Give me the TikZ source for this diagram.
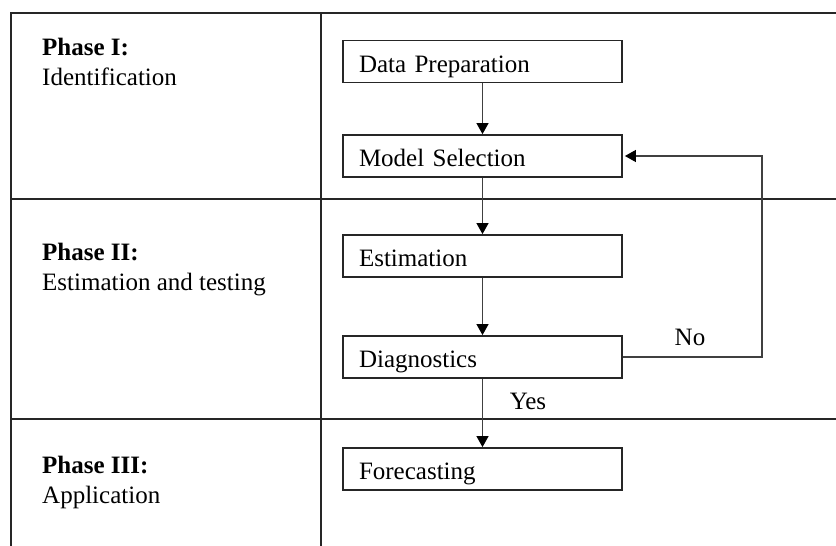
\documentclass[tikz,border=0pt]{standalone}
\usepackage{fontspec}
\setmainfont{Liberation Serif}
\usetikzlibrary{arrows.meta}
\begin{document}
\begin{tikzpicture}[x=1pt,y=-1pt,
  font=\fontsize{25}{30}\selectfont,
  rule/.style={line width=1.6pt, draw=black!85},
  stepbox/.style={draw=black!85, line width=1.8pt, rectangle, minimum width=279pt, minimum height=42pt,
     text width=247pt, inner xsep=16pt, inner ysep=0pt, align=left, text height=21pt, text depth=0pt},
  flow/.style={draw=black!75, line width=1.1pt, -{Triangle[width=12pt,length=11pt,color=black]}},
  phase/.style={anchor=base west, inner sep=0pt, align=left},
  lbl/.style={inner sep=0pt}]
\useasboundingbox (0,0) rectangle (836,546);
% table lines
\coordinate (tl) at (11,13);
\coordinate (bl) at (11,546);
\coordinate (tm) at (321,13);
\coordinate (bm) at (321,546);
\coordinate (tr) at (836,13);
\coordinate (h1l) at (11,199);
\coordinate (h1r) at (836,199);
\coordinate (h2l) at (11,419);
\coordinate (h2r) at (836,419);
\draw[rule] (tr) -- (tl) -- (bl);
\draw[rule] (tm) -- (bm);
\draw[rule] (h1l) -- (h1r);
\draw[rule] (h2l) -- (h2r);
% phase labels (base = baseline of last line)
\node[phase] (p1) at (42,85) {\textbf{Phase I:}\\Identification};
\node[phase] (p2) at (42,290) {\textbf{Phase II:}\\Estimation and testing};
\node[phase] (p3) at (42,503) {\textbf{Phase III:}\\Application};
% boxes
\node[stepbox] (dp) at (482.5,61.5) {Data Preparation};
\node[stepbox] (ms) at (482.5,156) {Model Selection};
\node[stepbox] (es) at (482.5,256) {Estimation};
\node[stepbox] (dg) at (482.5,357) {Diagnostics};
\node[stepbox] (fc) at (482.5,469) {Forecasting};
% arrows
\draw[flow] (dp) -- (ms);
\draw[flow] (ms) -- (es);
\draw[flow] (es) -- (dg);
\draw[flow] (dg) -- (fc);
\coordinate (fbr) at (762,357);
\draw[flow, shorten >=2pt] (dg.east) -- (fbr) |- (ms.east);
% labels
\node[lbl] (no) at (690,337) {No};
\node[lbl] (yes) at (528,401) {Yes};
\end{tikzpicture}
\end{document}
